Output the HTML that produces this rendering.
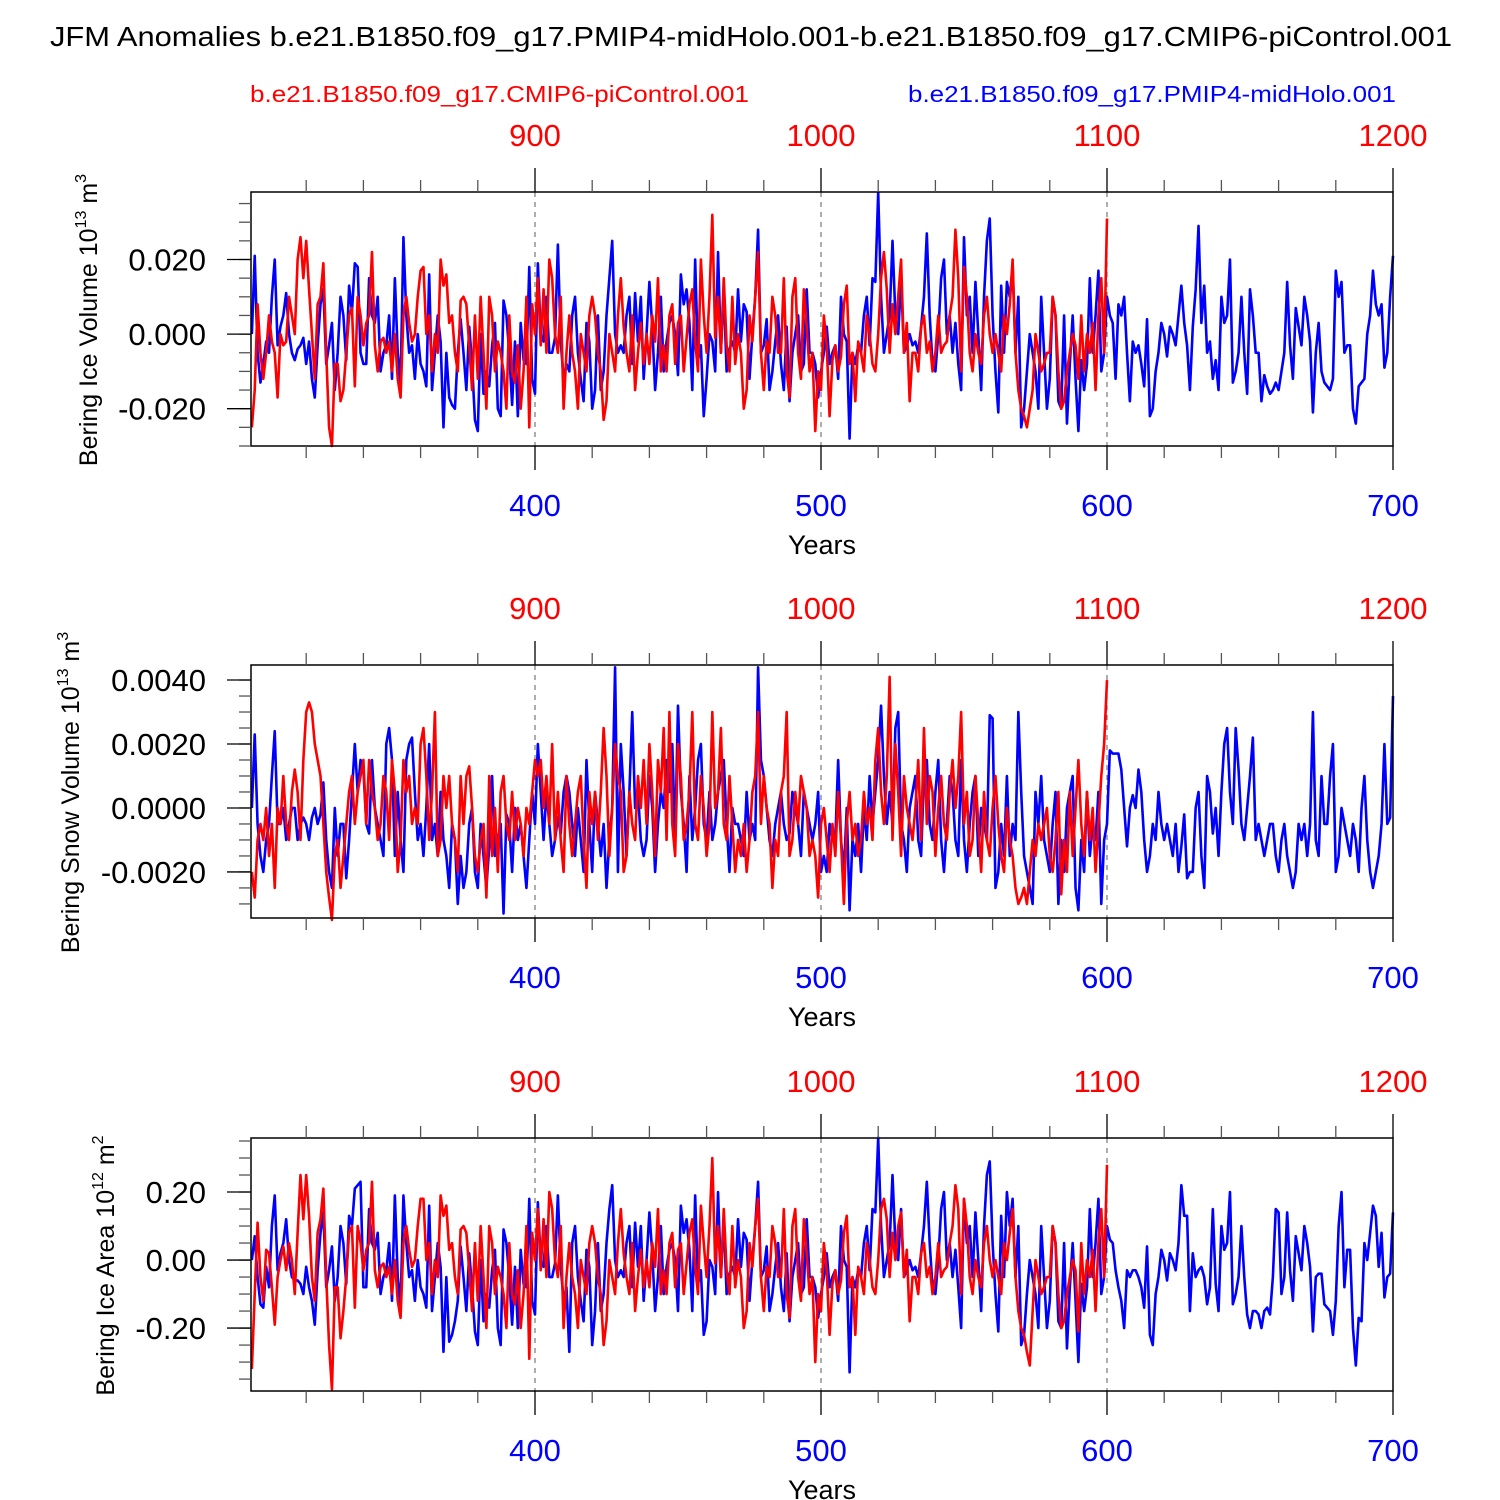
<!DOCTYPE html>
<html><head><meta charset="utf-8">
<style>
html,body{margin:0;padding:0;background:#fff;}
svg{display:block;font-family:"Liberation Sans",Arial,sans-serif;}
</style></head>
<body>
<svg id="chart" width="1500" height="1500" viewBox="0 0 1500 1500" xmlns="http://www.w3.org/2000/svg">
<rect width="1500" height="1500" fill="#fff"/>
<text x="50" y="46" font-size="28" textLength="1402" lengthAdjust="spacingAndGlyphs">JFM Anomalies b.e21.B1850.f09_g17.PMIP4-midHolo.001-b.e21.B1850.f09_g17.CMIP6-piControl.001</text>
<text x="250" y="102" font-size="23" fill="#f00" textLength="499" lengthAdjust="spacingAndGlyphs">b.e21.B1850.f09_g17.CMIP6-piControl.001</text>
<text x="908" y="102" font-size="23" fill="#00f" textLength="488" lengthAdjust="spacingAndGlyphs">b.e21.B1850.f09_g17.PMIP4-midHolo.001</text>
<g id="panels"></g>
</svg>
<script>
const blueYearStart = 301;
const redYearStart = 301;
const redYearOffset = 500;
const bottomTicks = [400, 500, 600, 700];
const topTicks = [900, 1000, 1100, 1200];

// Panel 1: Bering Ice Volume (units 0.001 x 1e13 m^3)
const iceVolBlue = [
0,21,-5,-13,-8,-2,-5,10,20,-3, 2,5,11,0,-5,-7,-4,-3,-1,-8,
-2,-12,-17,-3,8,12,-8,-3,3,-15, -5,10,5,-7,13,6,19,18,-5,-8,
-8,15,5,3,10,-10,-5,-3,5,-12, 15,-5,-13,26,5,-5,-3,-12,0,-8,
-10,-14,16,-15,-5,5,-2,-25,-5,-17, -19,-20,-5,4,-5,-15,2,-8,-23,-26,
0,-16,-10,-14,-3,3,-20,-22,9,5, -5,-19,-2,-22,3,-7,-8,18,-12,-16,
19,0,-2,10,-5,-5,-1,24,-2,-12, -8,-10,5,10,-5,-12,-18,3,-2,-20,
-15,5,-15,-10,5,15,25,0,-5,-3, -5,5,10,-8,11,-2,10,-12,0,14,
2,-15,-5,10,-10,-2,3,5,0,-11, 16,8,12,3,-15,20,-7,-3,-22,-12,
0,-2,-10,22,-5,12,-10,-4,-2,-5, 12,-2,8,6,-12,0,10,28,-5,-3,
4,-15,-10,-2,5,-8,-15,2,-18,-5, 0,5,-10,-8,12,-5,-5,-8,-17,-10,
-5,2,-8,-5,-3,-12,10,0,-2,-28, -5,-8,-3,-5,5,10,-3,15,14,38,
10,-5,0,5,25,5,0,15,-5,-3, 0,-3,-2,-5,2,10,27,5,-8,-10,
0,15,20,0,5,-5,3,-8,-15,26, 5,10,-5,14,0,-15,10,25,31,5,
-10,-21,13,-5,14,10,18,-5,10,-25, -20,-10,0,-5,-10,-20,10,-5,-20,-12,
10,5,-18,-20,5,-24,-8,5,-12,-26, -7,-15,-8,15,-5,5,17,-10,-5,10,
5,3,-12,8,5,10,-5,-18,-2,-5, -3,-8,-14,4,-22,-20,-10,-5,3,0,
-6,2,0,-3,5,13,3,-3,-15,2, 12,29,3,13,-5,-2,-12,-7,-15,10,
3,5,20,-13,-10,-5,10,-5,-16,12, 5,-5,-5,-18,-11,-14,-16,-15,-13,-15,
-10,-5,14,-3,-12,7,2,-3,10,5, -2,-21,-5,3,-10,-13,-14,-15,-12,17,
10,14,-5,-3,-3,-20,-24,-14,-13,-12, 0,5,17,8,5,8,-9,-5,10,21];
const iceVolRed = [
-25,-15,8,-5,-12,-5,5,-2,-5,-17, 0,-3,-2,10,5,0,20,26,15,25,
12,0,-12,8,10,19,-5,-25,-30,-8, -8,-18,-15,-5,5,7,-14,10,5,-3,
3,5,22,-3,-10,-2,-1,-5,-2,-10, 0,-12,-17,5,10,3,-2,0,10,17,
18,0,5,-10,0,-5,20,13,16,3, 5,-5,-10,9,10,8,-3,-15,5,-12,
10,-5,-20,10,5,-10,-2,-5,-10,-20, 5,-10,-13,-3,-20,-10,10,-25,8,0,
15,-3,12,-5,20,15,0,-5,10,-20, -5,5,-5,-10,-20,0,-5,-10,5,10,
5,-5,-10,-23,-18,0,-5,-10,5,15, 2,-5,-10,5,-15,-5,3,-8,0,-8,
5,-2,15,-10,-3,-10,5,8,-8,3, 5,-10,-1,8,12,-2,-10,20,5,-5,
10,32,-1,10,-5,15,-3,-10,10,-8, 0,-5,-20,-15,5,-2,10,22,-5,-15,
-2,-5,10,5,-5,-5,15,-10,-17,10, 15,-5,-12,12,2,-10,-5,-26,-10,-15,
5,-3,-22,-7,-3,-10,-6,8,13,-8, -5,-18,-2,-5,-10,5,0,-8,-10,0,
15,22,12,-5,8,0,10,20,-5,3, -18,-5,-5,-10,2,5,-5,-2,-10,-5,
5,-5,-3,-2,5,10,28,15,-10,18, 10,-5,-10,0,-5,-8,5,10,0,-5,
0,-5,-10,5,0,8,20,-5,-15,-20, -22,-25,-20,-15,0,-5,-10,-8,-5,-5,
10,5,-10,-20,-18,-10,-5,0,-3,-12, 5,-10,0,-5,3,-15,5,15,-5,31];

// Panel 2: Bering Snow Volume (units 0.0001 x 1e13 m^3)
const snowVolBlue = [
0,23,-5,-15,-20,-10,-5,10,24,-5, -5,0,-10,-5,0,0,-10,-5,-3,-5,
-10,-3,0,-5,-2,8,-10,-20,-25,0, -15,-5,-5,-22,-10,5,20,5,15,12,
-5,-8,15,0,-5,-10,-15,20,25,15, -15,5,-10,-20,15,20,22,5,-10,-5,
-15,0,20,-10,-5,-15,5,-10,-15,-25, -5,-10,-30,-15,-25,-20,-5,0,-20,-25,
-5,-15,-25,-12,10,-15,-10,-5,-33,-2, -5,-20,0,-10,-5,-15,-25,-10,5,-5,
20,5,-10,5,-5,-15,-10,-3,-8,5, 10,5,-5,-15,0,-10,-20,15,-5,-20,
5,-5,-15,-5,-25,-10,0,44,-20,20, 5,-15,5,30,0,5,-10,-15,-10,10,
0,-20,-5,5,0,15,5,20,-10,32, 5,-5,-20,10,-10,0,15,20,-5,-10,
5,-10,-5,5,10,15,-5,-20,0,-5, -5,-10,-15,5,-10,-5,-10,44,15,10,
0,-10,-15,-5,0,5,-5,-10,-8,5, 0,-5,-15,5,0,-5,-10,-5,5,-20,
-15,-20,-5,-10,-10,15,-10,-20,0,-32, -10,-15,-5,-20,0,-10,10,-5,5,15,
32,10,-5,5,-5,25,30,-5,-10,-20, 0,5,10,-10,-15,10,15,-5,-10,5,
15,-10,-20,-5,10,5,-10,-15,15,-10, -20,-5,5,10,-15,0,-5,-10,29,28,
-25,-20,-5,-15,10,-15,-5,-10,30,5, -15,-20,-25,-30,5,-5,10,-10,-15,-20,
-5,5,-30,-10,-20,0,5,10,-25,-32, -10,-20,5,-15,-5,-10,5,-30,-10,-5,
18,17,17,17,12,0,-12,0,4,0, 12,5,-10,-20,-15,-5,-10,5,-5,-10,
-5,-10,-15,-5,-20,-12,-2,-22,-20,-20, 0,5,-15,-25,10,5,-8,0,-15,5,
20,25,5,-5,25,12,-5,-10,0,10, 22,-10,-5,-10,-15,-10,-5,-5,-15,-20,
-10,-5,-15,-20,-25,-20,-5,-10,-5,-15, -5,30,-10,-15,10,-5,-5,10,20,-20,
-15,0,-5,-10,-15,-5,-10,-20,0,10, -10,-20,-25,-20,-15,-5,20,-5,-3,35];
const snowVolRed = [
-20,-28,-10,-5,-10,0,-15,-5,-25,0, -5,10,-5,-10,5,12,5,-10,15,30,
33,30,20,15,10,-5,-20,-28,-35,-15, -10,-25,-15,-5,5,10,-5,5,10,15,
-5,15,5,0,-10,-5,10,5,-10,15, 5,-20,-10,15,5,10,-5,0,-5,20,
25,10,-10,5,30,-15,-10,10,0,10, -5,-10,-20,10,-5,10,13,0,-15,-20,
-10,-5,-28,10,-15,0,-20,5,10,-5, -10,5,-10,0,-5,-15,0,-5,5,15,
10,15,0,10,-5,20,-10,5,-10,-20, 10,-5,-15,-5,5,10,-10,-25,5,-5,
5,-10,5,25,10,-15,0,20,10,5, -20,-15,5,-5,-10,10,0,15,-5,20,
5,-15,15,5,25,-10,30,-5,-15,20, 10,-10,-5,5,30,-5,-10,10,0,-15,
-5,30,0,5,25,-5,-10,10,-5,-20, -10,-15,-5,-20,-10,5,10,30,-5,10,
0,-5,-25,-10,-15,5,10,30,-15,-10, 5,-5,10,5,0,-15,-10,-15,-28,-5,
0,-10,-20,-5,-15,5,-10,-30,-5,5, -10,-5,-15,-10,5,-5,0,-10,15,25,
5,-5,10,41,-10,20,5,-15,10,0, -5,-10,0,15,-10,25,-5,10,5,-15,
0,10,-5,-10,5,15,0,10,30,-5, 5,-15,-10,10,-5,-20,5,-10,-15,0,
10,-5,-15,-20,0,-10,-15,-25,-30,-28, -25,-30,-20,-10,-15,-5,-10,-5,0,-15,
-20,-10,5,-27,-10,-20,5,-15,0,15, -5,-15,5,-10,0,-20,-5,10,20,40];

// Panel 3: Bering Ice Area (units 0.01 x 1e12 m^2)
const iceAreaBlue = [
0,7,-5,-13,-14,-2,-8,10,19,-3, 2,5,12,0,-5,-6,-6,-7,-10,-2,
-8,-12,-19,-3,8,14,-8,-3,4,-12, -5,10,5,-7,13,10,21,22,23,-8,
-8,15,5,3,8,-10,-5,-3,5,-12, 19,-5,-13,19,5,-5,-3,-12,0,-8,
-10,-14,16,-15,-5,5,-2,-27,-5,-24, -22,-18,-12,4,-5,-15,2,-8,-21,-25,
0,-18,-10,-14,-3,3,-20,-25,9,5, -5,-19,-2,-20,3,-7,-8,18,-12,-16,
17,0,-2,10,-5,-5,-1,19,-2,-12, -8,-27,5,10,-5,-12,-18,3,-2,-25,
-15,5,-15,-10,5,15,22,0,-5,-3, -5,5,10,-8,11,-2,10,-12,0,14,
2,-15,-5,10,-10,-2,3,5,0,-15, 16,8,12,3,-15,19,-7,-3,-22,-18,
0,-2,-10,20,-5,12,-10,-4,-2,-5, 12,-2,8,6,-12,0,10,23,-5,-3,
4,-15,-10,-2,5,-8,-15,2,-18,-5, 0,5,-10,-8,12,-5,-5,-8,-17,-10,
-5,2,-8,-5,-3,-12,10,0,-2,-33, -5,-8,-3,-5,5,10,-3,15,14,36,
10,-5,0,5,25,5,0,15,-5,-3, 0,-3,-2,-5,2,10,23,5,-8,-10,
0,15,20,0,5,-5,3,-8,-20,18, 5,10,-5,14,0,-15,10,25,29,5,
-10,-21,13,-5,20,10,18,-5,10,-25, -22,-10,0,-5,-10,-20,10,-5,-20,-12,
10,5,-18,-20,5,-26,-8,5,-12,-30, -7,-15,-8,15,-5,5,18,-10,-5,10,
6,5,-3,-8,-12,-20,-3,-5,-3,-3, -5,-8,-14,4,-22,-25,-10,-5,3,0,
-6,2,0,-3,5,22,13,13,-15,2, -5,-3,-2,-5,-13,-8,15,-7,-15,10,
3,5,20,-13,-10,-5,10,-5,-16,-20, -15,-15,-16,-20,-15,-14,-16,-5,15,14,
-10,-5,14,-3,-12,7,2,-3,10,5, -2,-21,-5,-4,-4,-13,-14,-15,-22,-12,
10,20,-8,3,3,-20,-31,-17,-18,5, 0,8,16,13,-2,8,-11,-5,-4,14];
const iceAreaRed = [
-32,-10,11,-5,-12,3,2,-8,-19,-5, 0,4,-3,5,0,-10,8,25,12,25,
13,-5,-12,8,12,21,-5,-25,-38,-8, -8,-23,-15,-5,8,10,-14,10,5,-3,
3,5,23,-3,-8,-2,-1,-5,-2,-10, 0,-12,-17,5,10,3,-2,0,10,18,
18,0,5,-10,0,-5,19,13,16,3, 5,-5,-10,9,10,8,-3,-15,5,-12,
10,-5,-20,10,5,-10,-2,-5,-10,-20, 5,-10,-13,-3,-20,-10,10,-29,8,0,
15,-3,12,-5,20,15,0,-5,10,-20, -5,5,-5,-10,-20,0,-5,-10,5,10,
5,-5,-10,-25,-18,0,-5,-10,5,15, 2,-5,-10,5,-15,-5,3,-8,0,-8,
5,-2,15,-10,-3,-10,5,8,-8,3, 5,-10,-1,8,12,-2,-10,16,5,-5,
10,30,-1,10,-5,15,-3,-10,10,-8, 0,-5,-20,-15,5,-2,10,18,-5,-15,
-2,-5,10,5,-5,-5,15,-10,-17,10, 15,-5,-12,12,2,-10,-5,-30,-10,-15,
5,-3,-22,-7,-3,-10,-6,8,13,-8, -5,-22,-2,-5,-10,5,0,-8,-10,0,
15,18,12,-5,8,0,10,14,-5,3, -18,-5,-5,-10,2,5,-5,-2,-10,-5,
5,-5,-3,-2,5,10,22,15,-10,18, 10,-5,-10,0,-5,-8,5,10,0,-5,
0,-5,-10,5,0,8,15,-5,-15,-20, -22,-27,-31,-15,0,-5,-10,-8,-5,-5,
10,5,-10,-20,-18,-10,-5,0,-3,-21, 5,-10,0,-5,3,-15,5,15,-5,28];

const panels = [
  {name:'ice-volume', top:192, bottom:446, ymin:-0.030, ymax:0.0381, scale:0.001,
   ticks:[-0.02,0,0.02], labels:['-0.020','0.000','0.020'], minorStep:0.005, titleX:97,
   blue:iceVolBlue, red:iceVolRed, title:'Bering Ice Volume 10', sup:'13', unit:' m', usup:'3'},
  {name:'snow-volume', top:665, bottom:918, ymin:-0.00344, ymax:0.00447, scale:0.0001,
   ticks:[-0.002,0,0.002,0.004], labels:['-0.0020','0.0000','0.0020','0.0040'], minorStep:0.0005, titleX:79,
   blue:snowVolBlue, red:snowVolRed, title:'Bering Snow Volume 10', sup:'13', unit:' m', usup:'3'},
  {name:'ice-area', top:1138, bottom:1391, ymin:-0.385, ymax:0.3588, scale:0.01,
   ticks:[-0.2,0,0.2], labels:['-0.20','0.00','0.20'], minorStep:0.05, titleX:114,
   blue:iceAreaBlue, red:iceAreaRed, title:'Bering Ice Area 10', sup:'12', unit:' m', usup:'2'}
];

const X0 = 251, X1 = 1393, YR0 = 300.7, YR1 = 700;
function xScale(yr){ return X0 + (yr - YR0) / (YR1 - YR0) * (X1 - X0); }
const NS = 'http://www.w3.org/2000/svg';
const root = document.getElementById('panels');
function mk(tag, attrs, parent){
  const e = document.createElementNS(NS, tag);
  for (const k in attrs) e.setAttribute(k, attrs[k]);
  (parent || root).appendChild(e);
  return e;
}

panels.forEach(p => {
  const g = mk('g', {});
  
  
  const yS = v => p.bottom - (v - p.ymin) / (p.ymax - p.ymin) * (p.bottom - p.top);

  [400, 500, 600].forEach(yr => {
    const l = mk('line', {x1:xScale(yr), x2:xScale(yr), y1:p.top, y2:p.bottom, stroke:'#777', 'stroke-width':1.2, 'stroke-dasharray':'5,5'}, g);
    
    
  });

  function series(vals, start, color, nm){
    let d = '';
    vals.forEach((v, i) => {
      d += (i ? 'L' : 'M') + xScale(start + i).toFixed(2) + ',' + yS(v * p.scale).toFixed(2);
    });
    const s = mk('path', {d:d, fill:'none', stroke:color, 'stroke-width':2.6, 'stroke-linejoin':'round'}, g);
    
    
  }
  series(p.blue, blueYearStart, '#00f', p.name + '-midholo-line');
  series(p.red, redYearStart, '#f00', p.name + '-picontrol-line');

  const fr = mk('rect', {x:X0, y:p.top, width:X1 - X0, height:p.bottom - p.top, fill:'none', stroke:'#000', 'stroke-width':1.5}, g);
  
  

  for (let yr = 320; yr <= 700; yr += 20) {
    const major = yr % 100 === 0;
    const len = major ? 24 : 12;
    const c = major ? '#000' : '#555';
    mk('line', {x1:xScale(yr), x2:xScale(yr), y1:p.bottom, y2:p.bottom + len, stroke:c, 'stroke-width':1.3}, g);
    mk('line', {x1:xScale(yr), x2:xScale(yr), y1:p.top, y2:p.top - len, stroke:c, 'stroke-width':1.3}, g);
  }
  bottomTicks.forEach(yr => {
    const t = mk('text', {x:xScale(yr), y:p.bottom + 70, 'font-size':31, fill:'#00f', 'text-anchor':'middle'}, g);
    t.textContent = yr;
    
    
  });
  topTicks.forEach(yr => {
    const t = mk('text', {x:xScale(yr - redYearOffset), y:p.top - 46, 'font-size':31, fill:'#f00', 'text-anchor':'middle'}, g);
    t.textContent = yr;
    
    
  });
  const xt = mk('text', {x:822, y:p.bottom + 108, 'font-size':27, 'text-anchor':'middle'}, g);
  xt.textContent = 'Years';
  
  

  const nMin = Math.ceil(p.ymin / p.minorStep - 1e-9), nMax = Math.floor(p.ymax / p.minorStep + 1e-9);
  for (let k = nMin; k <= nMax; k++) {
    const y = yS(k * p.minorStep);
    mk('line', {x1:X0 - 12, x2:X0, y1:y, y2:y, stroke:'#555', 'stroke-width':1.3}, g);
  }
  p.ticks.forEach((v, i) => {
    const y = yS(v);
    mk('line', {x1:X0 - 24, x2:X0, y1:y, y2:y, stroke:'#000', 'stroke-width':1.3}, g);
    const t = mk('text', {x:206, y:y + 11, 'font-size':31, 'text-anchor':'end'}, g);
    t.textContent = p.labels[i];
    
    
  });

  const cy = (p.top + p.bottom) / 2 + 1;
  const yt = mk('text', {x:0, y:0, 'font-size':25, 'text-anchor':'middle', transform:'translate(' + p.titleX + ',' + cy + ') rotate(-90)'}, g);
  
  
  yt.appendChild(document.createTextNode(p.title));
  const s1 = mk('tspan', {'font-size':16, dy:-11}, yt); s1.textContent = p.sup;
  const s2 = mk('tspan', {dy:11}, yt); s2.textContent = p.unit;
  const s3 = mk('tspan', {'font-size':16, dy:-11}, yt); s3.textContent = p.usup;
});
</script>
</body></html>
